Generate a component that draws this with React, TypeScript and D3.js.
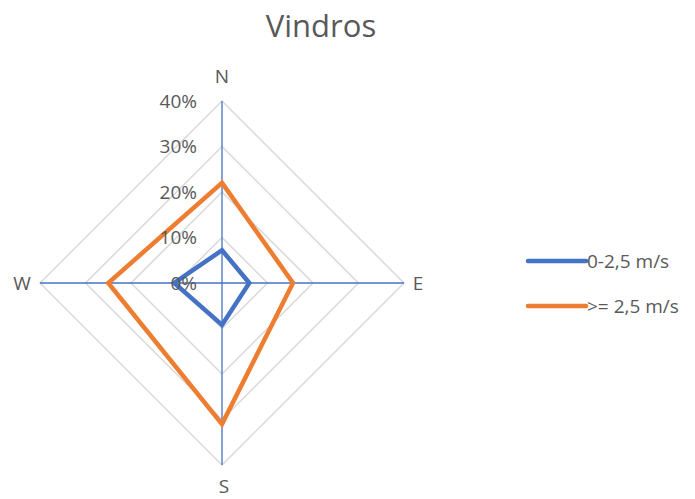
import React from "react";
import * as d3 from "d3";

const directions = ["N", "E", "S", "W"];
const tickValues = [0, 0.1, 0.2, 0.3, 0.4];
const seriesNames = ["0-2,5 m/s", ">= 2,5 m/s"];
const lowWind = [0.072, 0.06, 0.092, 0.105];
const highWind = [0.22, 0.156, 0.31, 0.25];
const seriesColors = ["#4472C4", "#ED7D31"];

const width = 695;
const height = 499;
const cx = 222;
const cy = 283;
const radius = 182;
const font = "'Open Sans', 'Liberation Sans', sans-serif";
const textColor = "#595959";
const labelSize = 19;

export default function App() {
  const r = d3.scaleLinear().domain([0, 0.4]).range([0, radius]);
  const angle = (i: number) => (i / directions.length) * 2 * Math.PI;
  const pt = (i: number, v: number): [number, number] => [
    cx + r(v) * Math.sin(angle(i)),
    cy - r(v) * Math.cos(angle(i)),
  ];
  const line = d3.line<[number, number]>().curve(d3.curveLinearClosed);
  const series = [lowWind, highWind];

  return (
    <svg width={width} height={height} style={{ position: "absolute", left: 0, top: 0 }}>
      <rect width={width} height={height} fill="#fff" />
      <text x={321} y={37} textAnchor="middle" fontSize={31} fill={textColor} fontFamily={font}>
        Vindros
      </text>
      {tickValues.slice(1).map((t) => (
        <path
          key={t}
          d={line(directions.map((_, i) => pt(i, t))) || ""}
          fill="none"
          stroke="#D9D9D9"
          strokeWidth={1.5}
        />
      ))}
      {directions.map((d, i) => {
        const [x, y] = pt(i, 0.4);
        return <line key={d} x1={cx} y1={cy} x2={x} y2={y} stroke="#4472C4" strokeWidth={1.3} />;
      })}
      {series.map((s, k) => (
        <path
          key={k}
          d={line(s.map((v, i) => pt(i, v))) || ""}
          fill="none"
          stroke={seriesColors[k]}
          strokeWidth={4.5}
          strokeLinejoin="miter"
        />
      ))}
      {tickValues.map((t) => (
        <text
          key={t}
          x={cx - 25}
          y={cy - r(t)}
          dy="0.35em"
          textAnchor="end"
          fontSize={labelSize}
          fill={textColor}
          fontFamily={font}
        >
          {d3.format(".0%")(t)}
        </text>
      ))}
      {directions.map((d, i) => {
        const [x, y] = pt(i, 0.4);
        const offs = [
          [0, -25],
          [14, 0],
          [2, 21],
          [-18, 0],
        ][i];
        return (
          <text
            key={d}
            x={x + offs[0]}
            y={y + offs[1]}
            dy="0.35em"
            textAnchor="middle"
            fontSize={labelSize}
            fill={textColor}
            fontFamily={font}
          >
            {d}
          </text>
        );
      })}
      {seriesNames.map((n, k) => (
        <g key={n} transform={`translate(528, ${261 + k * 45})`}>
          <line x1={0} x2={58} y1={0} y2={0} stroke={seriesColors[k]} strokeWidth={4.5} strokeLinecap="round" />
          <text x={59} y={0} dy="0.35em" fontSize={labelSize} fill={textColor} fontFamily={font}>
            {n}
          </text>
        </g>
      ))}
    </svg>
  );
}
